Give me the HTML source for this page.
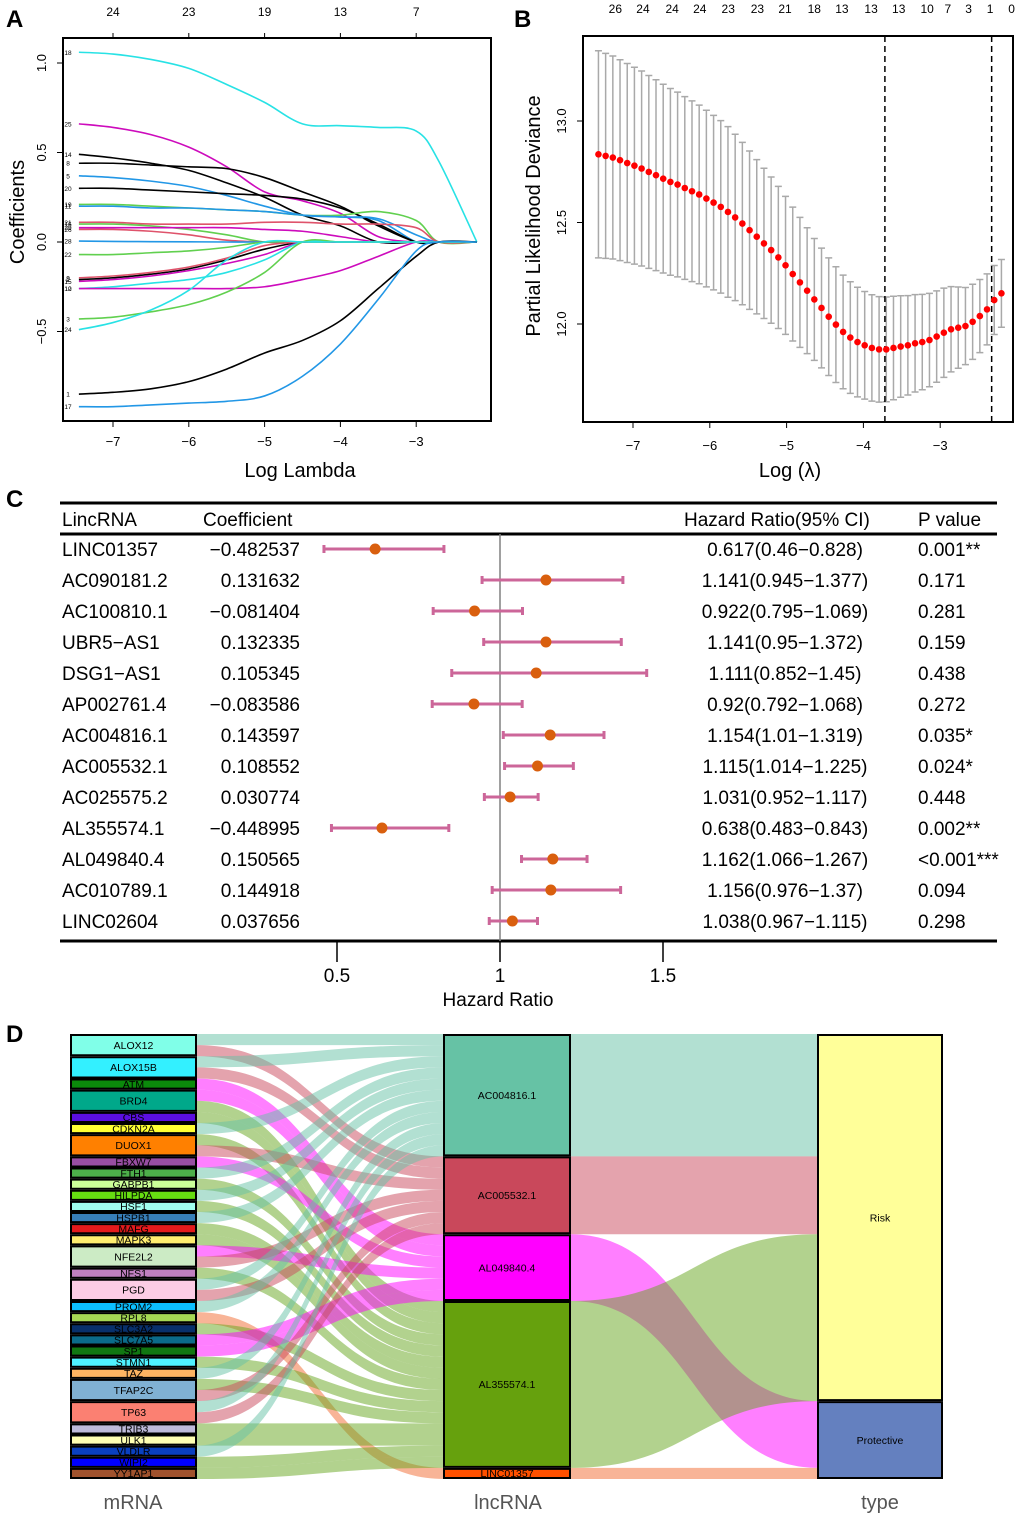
<!DOCTYPE html>
<html><head><meta charset="utf-8"><style>
body{margin:0;background:#fff}
svg{display:block;font-family:"Liberation Sans",Arial,sans-serif}
</style></head><body>
<svg id="fig" width="1020" height="1518" viewBox="0 0 1020 1518" xmlns="http://www.w3.org/2000/svg">
<text x="6" y="27" font-size="24" font-weight="bold">A</text>
<text x="514" y="27" font-size="24" font-weight="bold">B</text>
<text x="6" y="507" font-size="24" font-weight="bold">C</text>
<text x="6" y="1042" font-size="24" font-weight="bold">D</text>
<g id="pa"></g>
<g id="pb"></g>
<g id="pc"></g>
<g id="pd"></g>
</svg>
<script>
const NS="http://www.w3.org/2000/svg";
function el(p,t,a,txt){const e=document.createElementNS(NS,t);for(const k in a)e.setAttribute(k,a[k]);if(txt!==undefined)e.textContent=txt;p.appendChild(e);return e;}

// ---------- Panel A data ----------
const aGrid=[-7.45,-7,-6.5,-6,-5.5,-5,-4.5,-4,-3.5,-3,-2.7,-2.2];
const aTopLabels=["24","23","19","13","7"];
const aTopPos=[-7,-6,-5,-4,-3];
const aXTicks=[-7,-6,-5,-4,-3];
const aYTicks=[-0.5,0,0.5,1.0];
const aCurveIds=["18","25","14","8","5","20","19","11","21","16","29","26","28","22","2","9","15","10","12","3","24","1","17"];
const aCurveColors=["#28E2E5","#CD0BBC","#000000","#000000","#2297E6","#000000","#61D04F","#2297E6","#DF536B","#61D04F","#CD0BBC","#DF536B","#2297E6","#61D04F","#000000","#DF536B","#CD0BBC","#28E2E5","#CD0BBC","#61D04F","#28E2E5","#000000","#2297E6"];
const aCurves=[
[1.06,1.05,1.02,0.97,0.88,0.78,0.66,0.65,0.64,0.62,0.45,0],
[0.66,0.64,0.60,0.53,0.42,0.28,0.23,0.16,0.03,0,0,0],
[0.49,0.47,0.44,0.40,0.33,0.25,0.15,0.09,0,0,0,0],
[0.44,0.44,0.43,0.42,0.41,0.36,0.28,0.20,0.09,0,0,0],
[0.37,0.36,0.34,0.31,0.26,0.20,0.15,0.14,0.12,0,0,0],
[0.30,0.30,0.29,0.28,0.27,0.26,0.24,0.19,0.10,0,0,0],
[0.21,0.21,0.20,0.19,0.18,0.17,0.15,0.15,0.17,0.12,0,0],
[0.20,0.20,0.19,0.19,0.18,0.17,0.15,0.14,0.13,0.04,0,0],
[0.11,0.11,0.10,0.10,0.10,0.11,0.11,0.10,0.10,0.08,0,0],
[0.10,0.10,0.09,0.07,0.04,0,0,0,0,0,0,0],
[0.08,0.08,0.08,0.08,0.08,0.07,0.06,0.03,0,0,0,0],
[0.07,0.07,0.06,0.04,0.01,0,0,0,0,0,0,0],
[0.005,0.003,0.002,0.001,0,0,0,0,0,0,0,0],
[-0.07,-0.07,-0.06,-0.05,-0.03,0,0,0,0,0,0,0],
[-0.21,-0.20,-0.18,-0.15,-0.10,-0.04,0,0,0,0,0,0],
[-0.20,-0.19,-0.17,-0.14,-0.09,-0.02,0,0,0,0,0,0],
[-0.22,-0.21,-0.19,-0.16,-0.12,-0.07,0,0,0,0,0,0],
[-0.26,-0.25,-0.23,-0.21,-0.17,-0.10,0,0,0,0,0,0],
[-0.26,-0.26,-0.26,-0.26,-0.26,-0.25,-0.21,-0.16,-0.08,0,0,0],
[-0.43,-0.42,-0.39,-0.35,-0.28,-0.17,0,0,0,0,0,0],
[-0.49,-0.45,-0.38,-0.27,-0.10,0,0,0,0,0,0,0],
[-0.85,-0.84,-0.82,-0.78,-0.71,-0.62,-0.55,-0.44,-0.26,-0.08,0,0],
[-0.92,-0.92,-0.91,-0.90,-0.89,-0.86,-0.75,-0.57,-0.32,-0.05,0,0]];

// ---------- Panel B data ----------
const bLogLambda0=-7.45, bStep=0.0937;
const bMeans=[12.836,12.828,12.820,12.807,12.793,12.780,12.766,12.749,12.733,12.716,12.700,12.687,12.670,12.654,12.638,12.618,12.598,12.577,12.552,12.525,12.495,12.462,12.430,12.397,12.364,12.328,12.289,12.246,12.205,12.164,12.121,12.079,12.036,11.997,11.961,11.933,11.911,11.895,11.882,11.875,11.875,11.882,11.889,11.895,11.905,11.911,11.921,11.938,11.957,11.974,11.982,11.990,12.011,12.039,12.072,12.118,12.151];
const bSE=[0.51,0.505,0.50,0.495,0.49,0.485,0.48,0.475,0.47,0.465,0.46,0.455,0.45,0.445,0.44,0.435,0.43,0.425,0.42,0.41,0.40,0.39,0.38,0.37,0.36,0.35,0.34,0.33,0.32,0.31,0.30,0.295,0.29,0.285,0.28,0.275,0.27,0.265,0.262,0.26,0.258,0.255,0.25,0.245,0.24,0.235,0.23,0.225,0.22,0.21,0.20,0.19,0.185,0.18,0.175,0.17,0.167];
const bTopLabels=["26","24","24","24","23","23","21","18","13","13","13","10","7","3","1","0"];
const bTopPos=[-7.23,-6.87,-6.49,-6.13,-5.76,-5.38,-5.02,-4.64,-4.28,-3.90,-3.54,-3.17,-2.90,-2.63,-2.35,-2.07];
const bXTicks=[-7,-6,-5,-4,-3];
const bYTicks=[12.0,12.5,13.0];
const bVLines=[-3.72,-2.33];

// ---------- Panel C data ----------
const cNames=["LINC01357","AC090181.2","AC100810.1","UBR5−AS1","DSG1−AS1","AP002761.4","AC004816.1","AC005532.1","AC025575.2","AL355574.1","AL049840.4","AC010789.1","LINC02604"];
const cCoef=["−0.482537","0.131632","−0.081404","0.132335","0.105345","−0.083586","0.143597","0.108552","0.030774","−0.448995","0.150565","0.144918","0.037656"];
const cHR=[0.617,1.141,0.922,1.141,1.111,0.92,1.154,1.115,1.031,0.638,1.162,1.156,1.038];
const cLo=[0.46,0.945,0.795,0.95,0.852,0.792,1.01,1.014,0.952,0.483,1.066,0.976,0.967];
const cHi=[0.828,1.377,1.069,1.372,1.45,1.068,1.319,1.225,1.117,0.843,1.267,1.37,1.115];
const cP=["0.001**","0.171","0.281","0.159","0.438","0.272","0.035*","0.024*","0.448","0.002**","<0.001***","0.094","0.298"];
const cTicks=[0.5,1,1.5];

// ---------- Panel D data ----------
const dGenes=["ALOX12","ALOX15B","ATM","BRD4","CBS","CDKN2A","DUOX1","FBXW7","FTH1","GABPB1","HILPDA","HSF1","HSPB1","MAFG","MAPK3","NFE2L2","NFS1","PGD","PROM2","RPL8","SLC3A2","SLC7A5","SP1","STMN1","TAZ","TFAP2C","TP63","TRIB3","ULK1","VLDLR","WIPI2","YY1AP1"];
const dGeneColors=["#80FFE8","#33F0FF","#0B8A0B","#00A88A","#5B0FE0","#FFFF33","#FF8000","#984EA3","#4DAF4A","#CCFF99","#66DD11","#A0FFEE","#377EB8","#E41A1C","#FFED6F","#CCEBC5","#C080C0","#FCCDE5","#0CBFFF","#A6D854","#08306B","#0B6B8A","#117711","#4FF2FF","#FDB462","#80B1D3","#FB8072","#BEBADA","#FFFFB3","#0A40C0","#0000FF","#A0522D"];
const dLnc=["AC004816.1","AC005532.1","AL049840.4","AL355574.1","LINC01357"];
const dLncColors=["#66C2A5","#C9485B","#FF00FF","#66A10D","#FF5000"];
const dLinkColors=["#66C2A5","#C9485B","#FF00FF","#66A61E","#F26A30"];
const dLncType=[0,0,1,0,1];
const dTypes=["Risk","Protective"];
const dTypeColors=["#FFFF99","#6480BF"];
// links: pairs [geneIndex, lncIndex]
const dLinks=[[0,0],[0,1],[1,0],[1,1],[2,2],[3,2],[3,3],[4,3],[5,0],[6,3],[6,1],[7,2],[8,0],[9,3],[10,0],[11,3],[12,0],[13,3],[14,3],[15,2],[15,1],[16,3],[17,0],[17,1],[18,0],[19,4],[20,3],[21,2],[22,2],[23,3],[24,0],[25,3],[25,1],[26,0],[26,1],[27,3],[28,3],[29,0],[30,3],[31,3]];

// ================= Panel A =================
(function(){
 const g=document.getElementById('pa');
 const X=v=>113+(v+7)*75.8, Y=v=>242-v*179;
 el(g,'rect',{x:63,y:38,width:428,height:383,fill:'none',stroke:'#000','stroke-width':2});
 aCurves.forEach((c,i)=>{
  let d='';
  const pts=c.map((v,j)=>[X(aGrid[j]),Y(v)]);
  d='M'+pts[0][0]+','+pts[0][1];
  for(let j=0;j<pts.length-1;j++){
   const p0=pts[Math.max(0,j-1)],p1=pts[j],p2=pts[j+1],p3=pts[Math.min(pts.length-1,j+2)];
   const c1=[p1[0]+(p2[0]-p0[0])/6,p1[1]+(p2[1]-p0[1])/6],c2=[p2[0]-(p3[0]-p1[0])/6,p2[1]-(p3[1]-p1[1])/6];
   d+=` C${c1[0]},${c1[1]} ${c2[0]},${c2[1]} ${p2[0]},${p2[1]}`;
  }
  const p=el(g,'path',{d:d,fill:'none',stroke:aCurveColors[i],'stroke-width':1.6});
  
  
  const t=el(g,'text',{x:68,y:Y(c[0])+2.5,'font-size':6.5,'text-anchor':'middle'},aCurveIds[i]);
  
  
 });
 aXTicks.forEach(v=>{el(g,'line',{x1:X(v),x2:X(v),y1:421,y2:427,stroke:'#000'});
  const t=el(g,'text',{x:X(v),y:446,'font-size':13,'text-anchor':'middle'},'−'+Math.abs(v));});
 aYTicks.forEach(v=>{el(g,'line',{x1:57,x2:63,y1:Y(v),y2:Y(v),stroke:'#000'});
  const t=el(g,'text',{x:46,y:Y(v),'font-size':13,'text-anchor':'middle',transform:`rotate(-90 46 ${Y(v)})`},v<0?'−'+Math.abs(v).toFixed(1):v.toFixed(1));});
 aTopPos.forEach((v,i)=>{el(g,'line',{x1:X(v),x2:X(v),y1:33,y2:38,stroke:'#000'});
  const t=el(g,'text',{x:X(v),y:16,'font-size':12,'text-anchor':'middle'},aTopLabels[i]);});
 const xl=el(g,'text',{x:300,y:477,'font-size':20,'text-anchor':'middle'},'Log Lambda');
 const yl=el(g,'text',{x:24,y:212,'font-size':20,'text-anchor':'middle',transform:'rotate(-90 24 212)'},'Coefficients');
})();

// ================= Panel B =================
(function(){
 const g=document.getElementById('pb');
 const X=v=>633+(v+7)*76.8, Y=v=>324-(v-12)*203;
 el(g,'rect',{x:583,y:36,width:430,height:386,fill:'none',stroke:'#000','stroke-width':2});
 bMeans.forEach((m,i)=>{
  const x=X(bLogLambda0+i*bStep),y1=Y(m+bSE[i]),y2=Y(m-bSE[i]);
  const e=el(g,'path',{d:`M${x},${y1}V${y2}M${x-3.5},${y1}H${x+3.5}M${x-3.5},${y2}H${x+3.5}`,stroke:'#A9A9A9','stroke-width':1.5,fill:'none'});
  
  
 });
 bVLines.forEach(v=>{const l=el(g,'line',{x1:X(v),x2:X(v),y1:36,y2:422,stroke:'#000','stroke-width':1.5,'stroke-dasharray':'6,4'});});
 bMeans.forEach((m,i)=>{
  const c=el(g,'circle',{cx:X(bLogLambda0+i*bStep),cy:Y(m),r:3.3,fill:'#FF0000'});
  
  
 });
 bXTicks.forEach(v=>{el(g,'line',{x1:X(v),x2:X(v),y1:422,y2:428,stroke:'#000'});
  const t=el(g,'text',{x:X(v),y:450,'font-size':13,'text-anchor':'middle'},'−'+Math.abs(v));});
 bYTicks.forEach(v=>{el(g,'line',{x1:577,x2:583,y1:Y(v),y2:Y(v),stroke:'#000'});
  const t=el(g,'text',{x:566,y:Y(v),'font-size':13,'text-anchor':'middle',transform:`rotate(-90 566 ${Y(v)})`},v.toFixed(1));});
 bTopPos.forEach((v,i)=>{const t=el(g,'text',{x:X(v),y:13,'font-size':12,'text-anchor':'middle'},bTopLabels[i]);});
 const xl=el(g,'text',{x:790,y:477,'font-size':20,'text-anchor':'middle'},'Log (λ)');
 const yl=el(g,'text',{x:540,y:216,'font-size':20,'text-anchor':'middle',transform:'rotate(-90 540 216)'},'Partial Likelihood Deviance');
})();

// ================= Panel C =================
(function(){
 const g=document.getElementById('pc');
 const X=v=>500+(v-1)*326, rowY=i=>549+i*31;
 el(g,'line',{x1:60,x2:997,y1:503,y2:503,stroke:'#000','stroke-width':3});
 el(g,'line',{x1:60,x2:997,y1:534,y2:534,stroke:'#000','stroke-width':3});
 el(g,'line',{x1:60,x2:997,y1:941,y2:941,stroke:'#000','stroke-width':3});
 el(g,'line',{x1:X(1),x2:X(1),y1:534,y2:941,stroke:'#808080','stroke-width':1.5});
 const hs=[['LincRNA',62,'start'],['Coefficient',203,'start'],['Hazard Ratio(95% CI)',684,'start'],['P value',918,'start']];
 hs.forEach(h=>{const t=el(g,'text',{x:h[1],y:526,'font-size':19,'text-anchor':h[2]},h[0]);});
 cNames.forEach((n,i)=>{
  const y=rowY(i);
  let t=el(g,'text',{x:62,y:y+7,'font-size':19},n);
  t=el(g,'text',{x:300,y:y+7,'font-size':19,'text-anchor':'end'},cCoef[i]);
  t=el(g,'text',{x:785,y:y+7,'font-size':19,'text-anchor':'middle'},cHR[i]+'('+cLo[i]+'−'+cHi[i]+')');
  t=el(g,'text',{x:918,y:y+7,'font-size':19},cP[i]);
  const b=el(g,'path',{d:`M${X(cLo[i])},${y}H${X(cHi[i])}M${X(cLo[i])},${y-4}V${y+4}M${X(cHi[i])},${y-4}V${y+4}`,stroke:'#CC6699','stroke-width':3,fill:'none'});
  
  
  const c=el(g,'circle',{cx:X(cHR[i]),cy:y,r:5.5,fill:'#D95F0E'});
  
  
 });
 cTicks.forEach(v=>{el(g,'line',{x1:X(v),x2:X(v),y1:941,y2:962,stroke:'#000','stroke-width':1.5});
  const t=el(g,'text',{x:X(v),y:982,'font-size':19,'text-anchor':'middle'},String(v));});
 const xl=el(g,'text',{x:498,y:1006,'font-size':19,'text-anchor':'middle'},'Hazard Ratio');
})();

// ================= Panel D =================
(function(){
 const g=document.getElementById('pd');
 const top=1034,bot=1479,total=dLinks.length,u=(bot-top)/total;
 const gx0=71,gx1=196,lx0=444,lx1=570,tx0=818,tx1=942;
 // gene units
 const gUnits=dGenes.map((_,i)=>dLinks.filter(l=>l[0]===i).length);
 const gStart=[];let c=0;gUnits.forEach(n=>{gStart.push(c);c+=n;});
 const lUnits=dLnc.map((_,i)=>dLinks.filter(l=>l[1]===i).length);
 const lStart=[];c=0;lUnits.forEach(n=>{lStart.push(c);c+=n;});
 // type order: Risk members then Protective members
 const tOrder=[];[0,1].forEach(t=>dLnc.forEach((_,i)=>{if(dLncType[i]===t)tOrder.push(i);}));
 const tUnits=[0,1].map(t=>lUnits.reduce((s,n,i)=>s+(dLncType[i]===t?n:0),0));
 const tStart=[0,tUnits[0]];
 const lTypePos={};c=0;tOrder.forEach(i=>{lTypePos[i]=c;c+=lUnits[i];});
 const band=(x0,x1,a,b,h,col,name)=>{
  const ya=top+a*u,yb=top+b*u,hh=h*u,m=(x0+x1)/2;
  const p=el(g,'path',{d:`M${x0},${ya}C${m},${ya} ${m},${yb} ${x1},${yb}L${x1},${yb+hh}C${m},${yb+hh} ${m},${ya+hh} ${x0},${ya+hh}Z`,fill:col,'fill-opacity':0.5});
  
  
 };
 // lnc -> type
 dLnc.forEach((_,i)=>band(lx1,tx0,lStart[i],lTypePos[i],lUnits[i],dLinkColors[i],'lnc-type-flow'));
 // gene -> lnc
 const gUsed=gUnits.map(()=>0),lUsed=lUnits.map(()=>0);
 dLinks.forEach(l=>{
  const a=gStart[l[0]]+gUsed[l[0]]++,b=lStart[l[1]]+lUsed[l[1]]++;
  band(gx1,lx0,a,b,1,dLinkColors[l[1]],'gene-lnc-flow');
 });
 const box=(x0,x1,s,n,fill,label,fs,name)=>{
  const y0=top+s*u+1,h=n*u-2;
  const r=el(g,'rect',{x:x0,y:y0,width:x1-x0,height:h,fill:fill,stroke:'#000','stroke-width':2});
  
  
  const t=el(g,'text',{x:(x0+x1)/2,y:y0+h/2+fs*0.36,'font-size':fs,'text-anchor':'middle'},label);
  
  
 };
 dGenes.forEach((n,i)=>box(gx0,gx1,gStart[i],gUnits[i],dGeneColors[i],n,10.5,'mrna-node'));
 dLnc.forEach((n,i)=>box(lx0,lx1,lStart[i],lUnits[i],dLncColors[i],n,10.5,'lncrna-node'));
 dTypes.forEach((n,i)=>box(tx0,tx1,tStart[i],tUnits[i],dTypeColors[i],n,10.5,'type-node'));
 [['mRNA',133],['lncRNA',508],['type',880]].forEach(a=>{const t=el(g,'text',{x:a[1],y:1509,'font-size':20,'text-anchor':'middle',fill:'#555'},a[0]);});
})();
</script>
</body></html>
